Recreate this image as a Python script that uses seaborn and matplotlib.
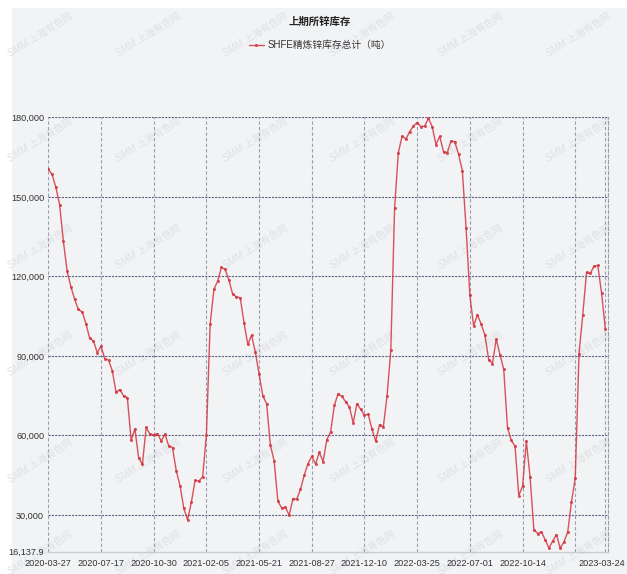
import numpy as np
import pandas as pd
import matplotlib
matplotlib.use('Agg')
import matplotlib.pyplot as plt
import matplotlib.transforms as mtrans
import seaborn as sns
from matplotlib.patches import Rectangle

# weekly SHFE refined zinc stock, tonnes
stock = [
    160400, 158500, 153600, 147100, 133300, 122000, 116100, 111300, 107500, 106600,
    102200, 96600, 95700, 91200, 93700, 89000, 88400, 84400, 76300, 77300,
    74900, 74300, 58200, 62500, 51600, 49100, 63000, 60500, 60200, 60700,
    57900, 60500, 56000, 55400, 46600, 41100, 32500, 28200, 34700, 43000,
    42800, 44300, 60100, 102000, 115100, 118200, 123400, 122600, 118500, 113200,
    112300, 111900, 102500, 94300, 97800, 91500, 83100, 74900, 72000, 56300,
    50400, 35200, 32600, 32900, 29900, 36200, 35900, 39700, 45000, 49400,
    52100, 49200, 53600, 50100, 58400, 61300, 71300, 75800, 74700, 72700,
    70800, 64700, 72000, 69800, 67600, 68000, 62300, 57800, 64100, 63100,
    74900, 92200, 145800, 166700, 172900, 171700, 174600, 176700, 178000, 176500,
    176700, 179600, 176500, 169700, 172800, 167000, 166700, 171100, 170800, 166000,
    159900, 138100, 112900, 101200, 105600, 102000, 97800, 88600, 87100, 96300,
    90500, 84900, 62800, 58200, 55900, 37300, 40800, 57800, 44300, 24500,
    23000, 23600, 20700, 17500, 20100, 22600, 17500, 19800, 23600, 34900,
    44000, 90900, 105600, 121500, 121100, 123900, 124100, 113600, 100000,
]
tick_dates = ['2020-03-27', '2020-07-17', '2020-10-30', '2021-02-05', '2021-05-21',
              '2021-08-27', '2021-12-10', '2022-03-25', '2022-07-01', '2022-10-14',
              '', '2023-03-24']
y_ticks = [16137.9, 30000, 60000, 90000, 120000, 150000, 180000]
y_labels = ['16,137.9', '30,000', '60,000', '90,000', '120,000', '150,000', '180,000']

title = '上期所锌库存'
series_name = 'SHFE精炼锌库存总计（吨）'

df = pd.DataFrame({'idx': np.arange(len(stock)), 'stock': stock})

sns.set_theme(style='white')
fonts = ['Liberation Sans', 'Noto Sans CJK SC', 'DejaVu Sans']
plt.rcParams['font.family'] = fonts

bg = '#f2f3f5'
fig = plt.figure(figsize=(6.27, 5.74), dpi=100)
fig.patch.set_facecolor('white')
fig.patches.append(Rectangle((12 / 627, 0), 1 - 12 / 627, 1 - 8 / 574,
                             transform=fig.transFigure, facecolor=bg,
                             edgecolor='none', zorder=-10))

ax = fig.add_axes([48.3 / 627, 1 - 551.7 / 574, (608 - 48.3) / 627, (551.7 - 117.3) / 574])
ax.set_facecolor('none')

# watermark
for wx in [40, 148, 255, 362, 470, 578]:
    for wy in [35, 140, 247, 354, 461, 553]:
        fig.text(wx / 627, 1 - wy / 574, 'SMM 上海有色网', rotation=32,
                 ha='center', va='center', fontsize=7, color='#dfe0e4',
                 family=fonts, style='italic', zorder=-5)

sns.lineplot(data=df, x='idx', y='stock', ax=ax, color='#d3343f', lw=1.0,
             alpha=0.85, marker='o', markersize=2.2, markeredgewidth=0,
             label=series_name, legend=False)

n = len(stock)
xt = list(range(0, 141, 14)) + [n - 1]
ax.set_xlim(0, n - 1 + 0.7)
ax.set_ylim(y_ticks[0], y_ticks[-1])
ax.set_xticks(xt)
ax.set_xticklabels(tick_dates)
ax.set_yticks(y_ticks)
ax.set_yticklabels(y_labels)
ax.tick_params(axis='both', length=0, labelsize=6.6, colors='#333333', pad=3)
ax.tick_params(axis='x', pad=5)
ax.set_xlabel('')
ax.set_ylabel('')
# keep the last date inside the picture
last = ax.get_xticklabels()[-1]
last.set_transform(last.get_transform() + mtrans.ScaledTranslation(-4 / 100, 0, fig.dpi_scale_trans))

for v in y_ticks[1:]:
    ax.axhline(v, color='#5d6283', lw=0.8, ls=(0, (2, 1)), zorder=1)
for t in xt:
    ax.axvline(t, color='#9a9db2', lw=0.8, ls=(0, (3, 2)), zorder=1)

for s in ['top', 'left']:
    ax.spines[s].set_visible(False)
ax.spines['right'].set_color('#9a9db2')
ax.spines['right'].set_linestyle((0, (3, 2)))
ax.spines['right'].set_linewidth(0.8)
ax.spines['bottom'].set_color('#c9cbd3')
ax.spines['bottom'].set_linewidth(1.0)

fig.text(320 / 627, 1 - 22 / 574, title, ha='center', va='center',
         fontsize=7.5, fontweight='bold', color='#222222',
         family=['Noto Sans CJK SC', 'DejaVu Sans'])
leg = fig.legend(loc='center', bbox_to_anchor=(320 / 627, 1 - 45 / 574),
                 frameon=False, fontsize=7, handlelength=1.6,
                 handletextpad=0.4)
for txt in leg.get_texts():
    txt.set_family(fonts)
    txt.set_color('#333333')

fig.savefig('out.png', dpi=100, facecolor=fig.get_facecolor())
